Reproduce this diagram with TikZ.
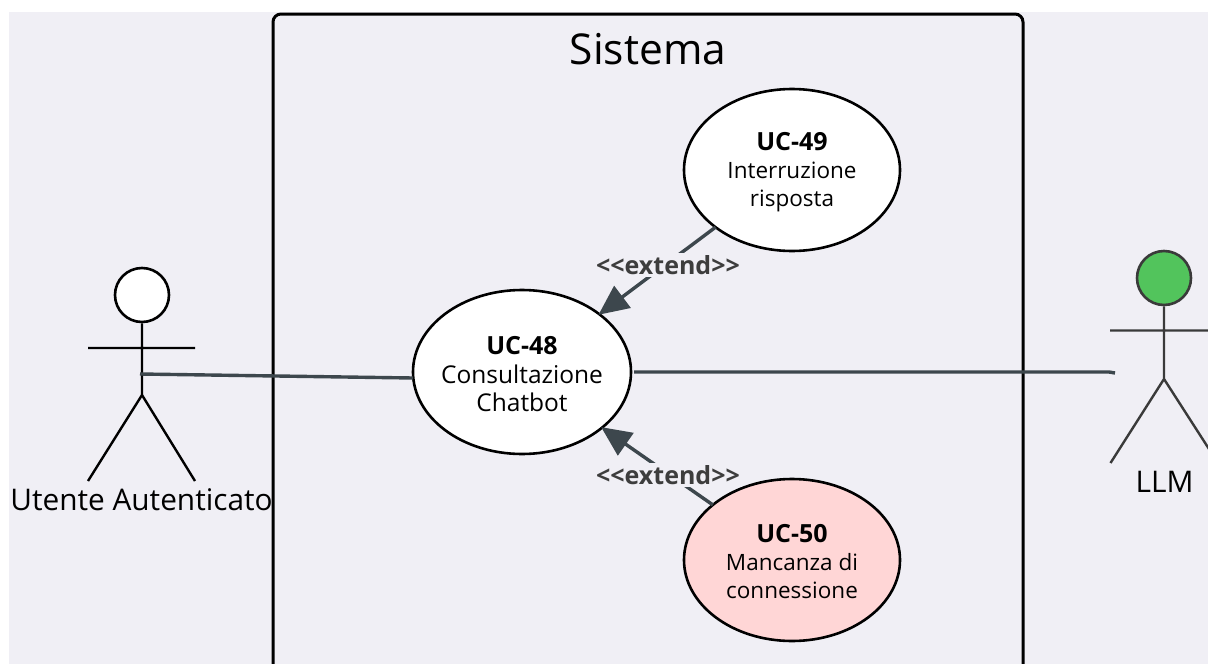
\documentclass[tikz,border=0pt]{standalone}
\usepackage{fontspec}
\setmainfont{Open Sans}
\usetikzlibrary{shapes.geometric,arrows.meta}
\definecolor{bgc}{HTML}{F0EFF5}
\definecolor{conn}{HTML}{3D474D}
\definecolor{limb}{HTML}{3A3A3A}
\definecolor{lab}{HTML}{3D3D3D}
\definecolor{gr}{HTML}{52C45C}
\definecolor{pk}{HTML}{FFD6D6}
\newcommand{\ucbold}[1]{{\fontsize{25}{28}\selectfont\textbf{#1}}}
\tikzset{
  x=1pt,y=-1pt,
  uc/.style={ellipse,draw=black,line width=2.6pt,minimum width=216pt,minimum height=162pt,inner sep=0pt,outer sep=0pt},
  uctext/.style={align=center,inner sep=0pt,font=\fontsize{22.5}{28}\selectfont},
  head/.style={circle,draw=limb,line width=2.6pt,minimum size=54pt,inner sep=0pt},
  limbline/.style={draw=limb,line width=2.4pt},
  wire/.style={draw=conn,line width=3.4pt},
  ext/.style={wire,-{Triangle[length=30pt,width=27pt]},shorten >=-1pt},
  extlab/.style={fill=bgc,inner sep=2pt,text=lab,font=\fontsize{25}{28}\selectfont\bfseries},
  actorlab/.style={font=\fontsize{29.8}{34}\selectfont,text=black}
}
\begin{document}
\begin{tikzpicture}
\useasboundingbox (0,0) rectangle (1208,664);
\clip (0,0) rectangle (1208,664);
\fill[bgc] (9,12) rectangle (1208,664);
\node[draw=black,line width=3pt,rounded corners=8pt,fill=bgc,outer sep=0pt,minimum width=750pt,minimum height=720pt,inner sep=0pt,anchor=north west] (sys) at (273,14) {};
\node[font=\fontsize{42.5}{46}\selectfont] (systitle) at (648,49) {Sistema};
% use cases
\node[uc,fill=white] (uc49) at (792,170) {};
\node[uctext] (t49) at (792,172.5) {\ucbold{UC-49}\\Interruzione\\risposta};
\node[uc,fill=white,minimum width=218pt,minimum height=164pt] (uc48) at (522,372) {};
\node[uctext,font=\fontsize{24.5}{28.5}\selectfont] (t48) at (522,374.5) {\ucbold{UC-48}\\Consultazione\\Chatbot};
\node[uc,fill=pk] (uc50) at (792,560) {};
\node[uctext] (t50) at (792,561.5) {\ucbold{UC-50}\\Mancanza di\\connessione};
% left actor
\node[head,fill=white,draw=black] (h1) at (142,295) {};
\coordinate (n1) at (142,395);
\coordinate (la1) at (88,348);
\coordinate (ra1) at (195,348);
\coordinate (ll1) at (88,481);
\coordinate (rl1) at (195,481);
\coordinate (w1) at (140,374);
\draw[limbline,draw=black] (h1) -- (n1) (la1) -- (ra1) (ll1) -- (n1) -- (rl1);
\node[actorlab] (a1) at (141.5,500) {Utente Autenticato};
% right actor
\node[head,fill=gr] (h2) at (1164,278) {};
\coordinate (n2) at (1164,379);
\coordinate (la2) at (1110,330.5);
\coordinate (ra2) at (1218,330.5);
\coordinate (ll2) at (1110.5,463);
\coordinate (rl2) at (1218,463);
\coordinate (w2) at (1109,372);
\coordinate (w3) at (1115,373);
\draw[limbline] (h2) -- (n2) (la2) -- (ra2) (ll2) -- (n2) -- (rl2);
\node[actorlab] (a2) at (1164.5,482) {LLM};
% connectors
\draw[wire] (w1) -- ([yshift=-6pt]uc48.west);
\draw[wire] ([xshift=3pt]uc48.east) -- (w2) -- (w3);
\draw[ext] (uc49) -- (uc48);
\draw[ext] (uc50) -- (uc48);
\node[extlab] (e1) at (668,265) {<{}<extend>{}>};
\node[extlab] (e2) at (668,475) {<{}<extend>{}>};
\end{tikzpicture}
\end{document}
